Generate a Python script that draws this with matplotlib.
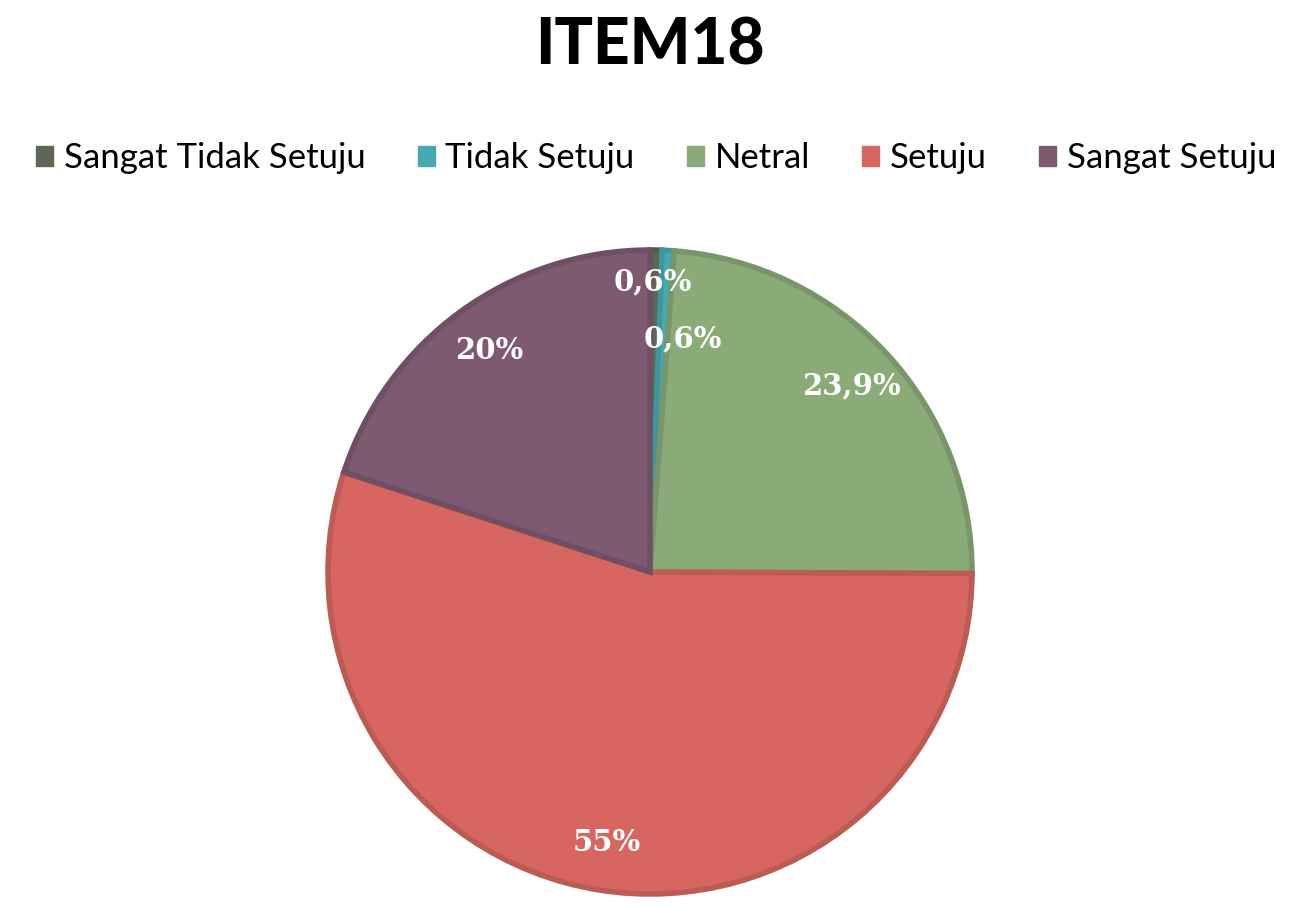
import matplotlib
matplotlib.use("Agg")
import matplotlib.pyplot as plt
import matplotlib.colors as mcolors
import numpy as np

title = "ITEM18"
categories = ["Sangat Tidak Setuju", "Tidak Setuju", "Netral", "Setuju", "Sangat Setuju"]
values = [0.6, 0.6, 23.9, 55, 20]
labels = ["0,6%", "0,6%", "23,9%", "55%", "20%"]
colors = ["#5f6653", "#46aab4", "#8aab78", "#d6665f", "#7e5a72"]

W, H = 1296, 907
fig = plt.figure(figsize=(W / 100, H / 100), dpi=100)

cx, cy, R = 650, 572, 322
ax = fig.add_axes([(cx - R) / W, (H - cy - R) / H, 2 * R / W, 2 * R / H])

def darker(c, f=0.88):
    r, g, b = mcolors.to_rgb(c)
    return (r * f, g * f, b * f)

wedges, texts = ax.pie(values, colors=colors, startangle=90, counterclock=False,
                       radius=1.0, labels=labels, labeldistance=0.85,
                       textprops=dict(color="white", fontsize=21, fontweight="bold",
                                      family="DejaVu Serif"))
for w, c in zip(wedges, colors):
    w.set_edgecolor(darker(c))
    w.set_linewidth(4)
    w.set_clip_on(False)

for t in texts:
    t.set_ha("center")
    t.set_va("center")

# manual nudges for the two tiny slices
def polar(r, deg_cw_from_top):
    a = np.deg2rad(deg_cw_from_top)
    return r * np.sin(a), r * np.cos(a)

texts[0].set_position(polar(0.90, 0.5))
texts[1].set_position(polar(0.73, 8.0))

ax.set_xlim(-1, 1)
ax.set_ylim(-1, 1)
ax.set_aspect("equal")
ax.axis("off")

fig.text(650 / W, 1 - 46 / H, title, ha="center", va="center", fontsize=46,
         fontweight="black", family="Lato", color="black")

handles = [plt.Rectangle((0, 0), 1, 1, color=c) for c in colors]
leg = fig.legend(handles, categories, loc="center", bbox_to_anchor=(656 / W, 1 - 158 / H),
                 ncol=5, frameon=False, prop=dict(family="Lato", size=25),
                 handlelength=0.5, handleheight=0.5, handletextpad=0.3, columnspacing=1.5)

fig.savefig("out.png", dpi=100, facecolor="white")
